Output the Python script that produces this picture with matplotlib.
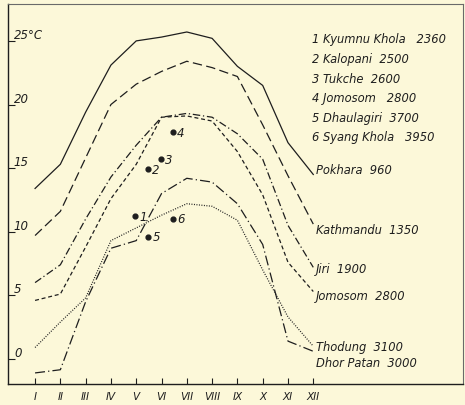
import matplotlib
matplotlib.use("Agg")
import matplotlib.pyplot as plt

months = list(range(1, 13))
month_labels = ["I", "II", "III", "IV", "V", "VI", "VII", "VIII", "IX", "X", "XI", "XII"]

pokhara   = [13.4, 15.3, 19.4, 23.1, 25.0, 25.3, 25.7, 25.2, 23.0, 21.5, 17.0, 14.5]
kathmandu = [9.7, 11.6, 15.8, 20.0, 21.6, 22.6, 23.4, 22.9, 22.2, 18.4, 14.4, 10.6]
jiri      = [6.0, 7.4, 11.0, 14.3, 16.8, 19.0, 19.3, 19.0, 17.7, 15.7, 10.5, 7.2]
jomosom   = [4.6, 5.1, 8.8, 12.6, 15.3, 19.0, 19.1, 18.7, 16.3, 12.9, 7.6, 5.3]
thodung   = [0.9, 2.9, 4.8, 9.3, 10.3, 11.3, 12.2, 12.0, 10.9, 7.0, 3.3, 1.0]
dhorpatan = [-1.1, -0.85, 4.5, 8.7, 9.3, 13.0, 14.2, 13.9, 12.2, 9.0, 1.4, 0.6]

series_names = ["Pokhara  960", "Kathmandu  1350", "Jiri  1900", "Jomosom  2800",
                "Thodung  3100", "Dhor Patan  3000"]
label_y = [14.9, 10.2, 7.1, 5.0, 1.0, -0.25]

point_ids = ["1", "2", "3", "4", "5", "6"]
point_x = [4.95, 5.47, 5.98, 6.45, 5.47, 6.45]
point_y = [11.2, 14.9, 15.7, 17.8, 9.6, 11.0]
legend_lines = ["1 Kyumnu Khola   2360", "2 Kalopani  2500", "3 Tukche  2600",
                "4 Jomosom   2800", "5 Dhaulagiri  3700", "6 Syang Khola   3950"]

yticks = [0, 5, 10, 15, 20, 25]
ytick_labels = ["0", "5", "10", "15", "20", "25°C"]

bg = "#FCF8D9"
ink = "#1e1e1e"
fnt = dict(family="DejaVu Sans", style="oblique", color=ink)

fig = plt.figure(figsize=(4.65, 4.06), dpi=100, facecolor=bg)
ax = fig.add_axes([8/465, 1-385/406, 455/465, 380/406])
ax.set_facecolor(bg)

styles = [
    dict(linestyle="-"),
    dict(dashes=(7.5, 3.5)),
    dict(dashes=(6, 2.2, 1, 2.2)),
    dict(dashes=(3.2, 2.2)),
    dict(dashes=(0.8, 1.2)),
    dict(dashes=(8, 2.5, 1, 2.5)),
]
all_series = [pokhara, kathmandu, jiri, jomosom, thodung, dhorpatan]
for vals, st, name, ly in zip(all_series, styles, series_names, label_y):
    ax.plot(months, vals, color=ink, lw=0.9, **st)
    ax.text(12.1, ly, name, fontsize=8.3, va="center", ha="left", **fnt)

ax.scatter(point_x, point_y, s=12, color=ink, zorder=3)
for px, py, pid in zip(point_x, point_y, point_ids):
    ax.text(px + 0.17, py, pid, fontsize=8.5, va="center", ha="left", **fnt)

for i, t in enumerate(legend_lines):
    ax.text(0.668, 0.908 - i * 0.0515, t, transform=ax.transAxes,
            fontsize=8.3, va="center", ha="left", **fnt)

ax.set_xlim(-0.07, 17.92)
ax.set_ylim(-1.97, 27.9)

ax.set_xticks(months)
ax.set_xticklabels(month_labels, fontsize=7.5, **fnt)
ax.tick_params(axis="x", direction="in", length=4, width=0.8, pad=5, colors=ink)
ax.set_yticks(yticks)
ax.set_yticklabels([])
ax.tick_params(axis="y", direction="in", length=5, width=0.8, colors=ink)
for v, lab in zip(yticks, ytick_labels):
    ax.text(0.013, v, lab, transform=ax.get_yaxis_transform(),
            fontsize=8.5, va="bottom", ha="left", **fnt)

for s in ["left", "bottom"]:
    ax.spines[s].set_color(ink)
    ax.spines[s].set_linewidth(1.0)
for s in ["top", "right"]:
    ax.spines[s].set_color("#6a6a6a")
    ax.spines[s].set_linewidth(0.8)

fig.savefig("out.png", dpi=100, facecolor=bg)
